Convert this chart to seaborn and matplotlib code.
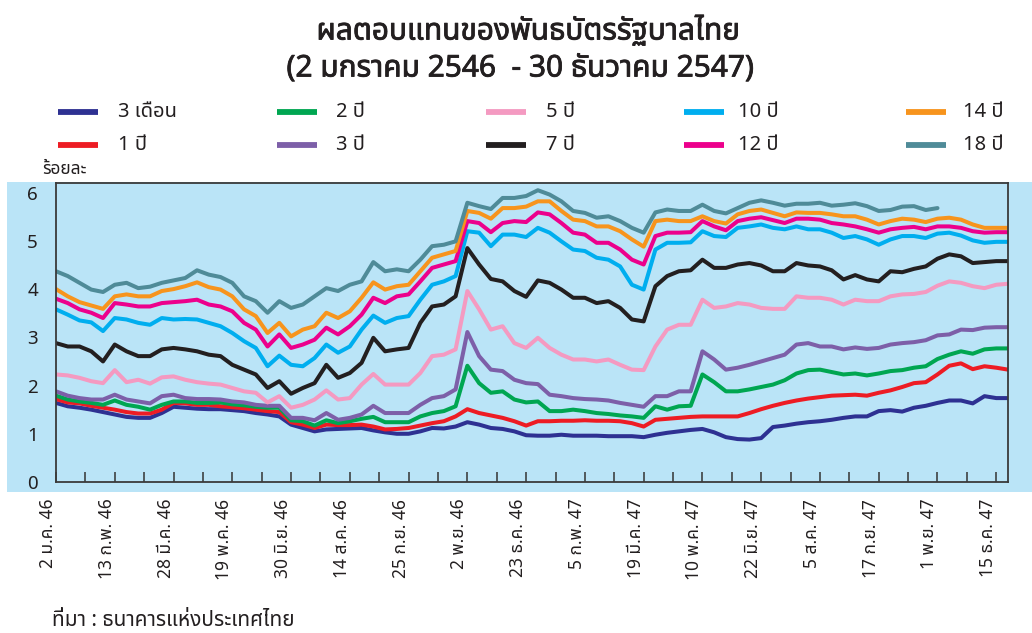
import numpy as np
import pandas as pd
import matplotlib
matplotlib.use("Agg")
import matplotlib.pyplot as plt
import matplotlib.transforms as mtransforms
import matplotlib.patheffects as pe
from matplotlib import font_manager
from matplotlib.ft2font import FT2Font
from matplotlib.lines import Line2D
from matplotlib.patches import Rectangle
import seaborn as sns

# ---------------------------------------------------------------- data
# observations every 6th trading day, 2 Jan 2003 (day 0) .. 30 Dec 2004
obs_day = np.arange(0, 487, 6)

tenors = ["3 เดือน", "1 ปี", "2 ปี", "3 ปี", "5 ปี",
          "7 ปี", "10 ปี", "12 ปี", "14 ปี", "18 ปี"]
colors = ["#2E3192", "#ED1C24", "#00A651", "#7D5FA8", "#F49AC1",
          "#231F20", "#00AEEF", "#EC008C", "#F7941D", "#4F8B98"]

y_3m = [1.64, 1.57, 1.54, 1.50, 1.45, 1.40, 1.35, 1.33, 1.33, 1.43, 1.56, 1.54, 1.52, 1.51,
        1.51, 1.49, 1.47, 1.43, 1.40, 1.36, 1.19, 1.12, 1.05, 1.09, 1.10, 1.11, 1.12, 1.07,
        1.03, 1.00, 1.00, 1.05, 1.12, 1.11, 1.15, 1.24, 1.19, 1.12, 1.10, 1.05, 0.97,
        0.96, 0.96, 0.98, 0.96, 0.96, 0.96, 0.95, 0.95, 0.95, 0.93, 0.98, 1.02, 1.05, 1.08,
        1.10, 1.03, 0.93, 0.89, 0.88, 0.91, 1.14, 1.17, 1.21, 1.24, 1.26, 1.29, 1.33, 1.36,
        1.36, 1.47, 1.49, 1.46, 1.54, 1.58, 1.64, 1.69, 1.69, 1.63, 1.78, 1.74, 1.74]
y_1y = [1.72, 1.65, 1.63, 1.58, 1.54, 1.50, 1.45, 1.42, 1.42, 1.50, 1.64, 1.63, 1.60, 1.60,
        1.57, 1.55, 1.53, 1.50, 1.47, 1.45, 1.24, 1.19, 1.12, 1.19, 1.18, 1.18, 1.19, 1.15,
        1.09, 1.10, 1.12, 1.17, 1.22, 1.26, 1.36, 1.51, 1.43, 1.38, 1.33, 1.26, 1.17,
        1.26, 1.26, 1.27, 1.27, 1.28, 1.27, 1.27, 1.26, 1.22, 1.15, 1.29, 1.31, 1.33, 1.35,
        1.36, 1.36, 1.36, 1.36, 1.43, 1.51, 1.58, 1.64, 1.69, 1.73, 1.76, 1.79, 1.80, 1.81,
        1.79, 1.85, 1.90, 1.97, 2.05, 2.07, 2.23, 2.41, 2.46, 2.34, 2.40, 2.37, 2.33]
y_2y = [1.79, 1.71, 1.67, 1.64, 1.60, 1.69, 1.60, 1.56, 1.50, 1.60, 1.67, 1.67, 1.64, 1.64,
        1.65, 1.61, 1.59, 1.56, 1.54, 1.54, 1.28, 1.26, 1.17, 1.28, 1.22, 1.26, 1.31, 1.35,
        1.24, 1.24, 1.24, 1.36, 1.43, 1.47, 1.57, 2.41, 2.05, 1.85, 1.88, 1.71, 1.65,
        1.67, 1.47, 1.47, 1.50, 1.47, 1.43, 1.41, 1.38, 1.36, 1.33, 1.57, 1.50, 1.57, 1.58,
        2.23, 2.07, 1.88, 1.88, 1.92, 1.97, 2.02, 2.11, 2.25, 2.32, 2.33, 2.28, 2.23, 2.25,
        2.21, 2.25, 2.30, 2.32, 2.37, 2.40, 2.55, 2.64, 2.71, 2.66, 2.75, 2.77, 2.77]
y_3y = [1.88, 1.79, 1.74, 1.71, 1.71, 1.81, 1.71, 1.67, 1.63, 1.78, 1.81, 1.74, 1.72, 1.72,
        1.71, 1.67, 1.65, 1.60, 1.58, 1.58, 1.33, 1.33, 1.28, 1.43, 1.29, 1.33, 1.40, 1.58,
        1.43, 1.43, 1.43, 1.60, 1.74, 1.78, 1.92, 3.11, 2.61, 2.33, 2.30, 2.12, 2.05,
        2.03, 1.81, 1.78, 1.74, 1.72, 1.71, 1.69, 1.64, 1.60, 1.56, 1.78, 1.78, 1.88, 1.88,
        2.71, 2.54, 2.33, 2.37, 2.43, 2.50, 2.57, 2.64, 2.85, 2.88, 2.81, 2.81, 2.75, 2.79,
        2.76, 2.78, 2.85, 2.88, 2.90, 2.94, 3.04, 3.06, 3.16, 3.15, 3.20, 3.21, 3.21]
y_5y = [2.23, 2.21, 2.16, 2.09, 2.05, 2.32, 2.07, 2.12, 2.04, 2.17, 2.19, 2.12, 2.07, 2.04,
        2.02, 1.95, 1.88, 1.85, 1.65, 1.78, 1.54, 1.60, 1.71, 1.90, 1.71, 1.74, 2.02, 2.24,
        2.02, 2.02, 2.02, 2.26, 2.61, 2.64, 2.75, 3.96, 3.58, 3.16, 3.23, 2.88, 2.78,
        2.99, 2.78, 2.64, 2.54, 2.54, 2.50, 2.54, 2.43, 2.33, 2.32, 2.81, 3.16, 3.26, 3.26,
        3.78, 3.61, 3.64, 3.71, 3.68, 3.61, 3.59, 3.59, 3.85, 3.82, 3.82, 3.78, 3.68, 3.78,
        3.75, 3.75, 3.85, 3.89, 3.90, 3.94, 4.07, 4.16, 4.13, 4.06, 4.02, 4.09, 4.11]
y_7y = [2.88, 2.81, 2.81, 2.71, 2.50, 2.85, 2.71, 2.61, 2.61, 2.75, 2.78, 2.75, 2.71, 2.64,
        2.61, 2.43, 2.33, 2.23, 1.95, 2.09, 1.83, 1.95, 2.05, 2.43, 2.16, 2.26, 2.47, 2.99,
        2.71, 2.75, 2.78, 3.30, 3.64, 3.68, 3.85, 4.85, 4.51, 4.21, 4.16, 3.96, 3.84,
        4.18, 4.13, 3.99, 3.82, 3.82, 3.71, 3.75, 3.61, 3.37, 3.33, 4.06, 4.27, 4.37, 4.39,
        4.61, 4.44, 4.44, 4.51, 4.54, 4.49, 4.37, 4.37, 4.54, 4.49, 4.47, 4.39, 4.20, 4.29,
        4.20, 4.16, 4.37, 4.35, 4.42, 4.47, 4.63, 4.72, 4.68, 4.54, 4.56, 4.58, 4.58]
y_10y = [3.58, 3.47, 3.35, 3.31, 3.13, 3.40, 3.37, 3.30, 3.26, 3.40, 3.37, 3.38, 3.37, 3.30,
         3.23, 3.09, 2.92, 2.78, 2.40, 2.62, 2.43, 2.40, 2.57, 2.85, 2.68, 2.81, 3.16, 3.45,
         3.30, 3.40, 3.44, 3.78, 4.09, 4.16, 4.27, 5.20, 5.17, 4.89, 5.13, 5.13, 5.08,
         5.27, 5.17, 4.99, 4.82, 4.79, 4.65, 4.61, 4.47, 4.09, 3.99, 4.82, 4.96, 4.96, 4.97,
         5.20, 5.10, 5.08, 5.27, 5.30, 5.34, 5.27, 5.24, 5.30, 5.24, 5.24, 5.17, 5.06, 5.10,
         5.03, 4.92, 5.03, 5.10, 5.10, 5.06, 5.15, 5.17, 5.11, 5.01, 4.96, 4.98, 4.98]
y_12y = [3.80, 3.71, 3.58, 3.51, 3.40, 3.71, 3.68, 3.64, 3.64, 3.71, 3.73, 3.75, 3.78, 3.68,
         3.64, 3.54, 3.30, 3.16, 2.81, 3.06, 2.78, 2.85, 2.95, 3.20, 3.06, 3.23, 3.47, 3.82,
         3.71, 3.85, 3.89, 4.16, 4.44, 4.51, 4.58, 5.41, 5.37, 5.18, 5.37, 5.41, 5.39,
         5.59, 5.55, 5.37, 5.17, 5.13, 4.96, 4.96, 4.82, 4.61, 4.51, 5.10, 5.17, 5.17, 5.18,
         5.41, 5.30, 5.22, 5.41, 5.46, 5.49, 5.43, 5.37, 5.46, 5.46, 5.44, 5.37, 5.34, 5.30,
         5.24, 5.17, 5.24, 5.27, 5.29, 5.24, 5.30, 5.30, 5.27, 5.20, 5.17, 5.18, 5.18]
y_14y = [4.00, 3.85, 3.73, 3.66, 3.59, 3.85, 3.89, 3.85, 3.85, 3.96, 4.00, 4.06, 4.14, 4.04,
         3.99, 3.85, 3.58, 3.44, 3.09, 3.30, 3.02, 3.16, 3.23, 3.51, 3.40, 3.54, 3.82, 4.14,
         3.99, 4.06, 4.09, 4.37, 4.65, 4.72, 4.79, 5.62, 5.58, 5.46, 5.68, 5.68, 5.71,
         5.82, 5.82, 5.62, 5.44, 5.41, 5.30, 5.30, 5.20, 5.03, 4.88, 5.41, 5.44, 5.41, 5.41,
         5.51, 5.41, 5.36, 5.55, 5.62, 5.65, 5.58, 5.51, 5.59, 5.58, 5.58, 5.55, 5.51, 5.51,
         5.44, 5.34, 5.41, 5.46, 5.44, 5.39, 5.46, 5.48, 5.44, 5.34, 5.27, 5.27, 5.27]
y_18y = [4.37, 4.27, 4.13, 3.99, 3.94, 4.09, 4.13, 4.02, 4.05, 4.13, 4.18, 4.23, 4.39, 4.30,
         4.25, 4.13, 3.85, 3.75, 3.51, 3.75, 3.61, 3.68, 3.85, 4.02, 3.96, 4.09, 4.16, 4.56,
         4.37, 4.41, 4.37, 4.61, 4.89, 4.92, 4.99, 5.79, 5.72, 5.66, 5.89, 5.89, 5.93,
         6.05, 5.96, 5.82, 5.62, 5.58, 5.48, 5.51, 5.41, 5.27, 5.17, 5.59, 5.65, 5.62, 5.62,
         5.75, 5.62, 5.57, 5.68, 5.79, 5.84, 5.79, 5.73, 5.77, 5.77, 5.79, 5.73, 5.75, 5.78,
         5.72, 5.62, 5.64, 5.71, 5.72, 5.64, 5.68, np.nan, np.nan, np.nan, np.nan, np.nan, np.nan]

tick_days = [0, 30, 60, 90, 120, 150, 180, 210, 240, 270, 300, 330, 360, 390, 420, 450, 480]
tick_labels = ["2 ม.ค. 46", "13 ก.พ. 46", "28 มี.ค. 46", "19 พ.ค. 46", "30 มิ.ย. 46",
               "14 ส.ค. 46", "25 ก.ย. 46", "2 พ.ย. 46", "23 ธ.ค. 46", "5 ก.พ. 47",
               "19 มี.ค. 47", "10 พ.ค. 47", "22 มิ.ย. 47", "5 ส.ค. 47", "17 ก.ย. 47",
               "1 พ.ย. 47", "15 ธ.ค. 47"]

title_1 = "ผลตอบแทนของพันธบัตรรัฐบาลไทย"
title_2 = "(2 มกราคม 2546  - 30 ธันวาคม 2547)"
unit_label = "ร้อยละ"
source_note = "ที่มา : ธนาคารแห่งประเทศไทย"

series = [y_3m, y_1y, y_2y, y_3y, y_5y, y_7y, y_10y, y_12y, y_14y, y_18y]
df = pd.concat(
    [pd.DataFrame({"day": obs_day, "yield": vals, "tenor": name})
     for name, vals in zip(tenors, series)],
    ignore_index=True,
)


# ---------------------------------------------------------------- fonts
def thai_family():
    preferred = ["Noto Sans Thai", "Noto Sans Thai UI", "Loma", "Garuda", "Umpush",
                 "Waree", "Sarabun", "Tlwg Typo", "Kinnari", "Norasi",
                 "DejaVu Sans", "Noto Sans", "FreeSans"]
    found = set()
    for f in font_manager.fontManager.ttflist:
        if f.name in found:
            continue
        try:
            cmap = FT2Font(f.fname).get_charmap()
        except Exception:
            continue
        if 0x0E01 in cmap and 0x0E1B in cmap:
            found.add(f.name)
    for name in preferred:
        if name in found:
            return name
    return sorted(found)[0] if found else "DejaVu Sans"


sns.set_theme(style="white")
THAI = thai_family()
plt.rcParams["font.family"] = [THAI, "DejaVu Sans"]
plt.rcParams["text.color"] = "#231F20"
INK = "#231F20"

# ---------------------------------------------------------------- figure
W, H = 1032, 633
fig = plt.figure(figsize=(W / 100, H / 100), dpi=100, facecolor="white")

band = "#BAE4F7"
fig.add_artist(Rectangle((7 / W, 141 / H), 1 - 7 / W, 310 / H,
                         transform=fig.transFigure, facecolor=band,
                         edgecolor="none", zorder=0))

ax = fig.add_axes([56 / W, 151 / H, 952 / W, 299 / H])
ax.set_facecolor(band)

sns.lineplot(data=df, x="day", y="yield", hue="tenor", hue_order=tenors,
             palette=colors, linewidth=2.9, legend=False, ax=ax,
             estimator=None, sort=False)

ax.set_xlim(0, 486)
ax.set_ylim(0, 6.2)
ax.set_xlabel("")
ax.set_ylabel("")

ax.set_yticks(range(0, 7))
ax.set_yticklabels([str(v) for v in range(0, 7)], fontsize=13.5, color=INK)
ax.tick_params(axis="y", length=0, pad=13)

ax.set_xticks(tick_days)
ax.set_xticklabels(tick_labels, rotation=90, fontsize=12.5, color=INK,
                   va="top", ha="center")
ax.set_xticks([d + 15 for d in tick_days[:-1]], minor=True)
ax.tick_params(axis="x", which="both", direction="in", length=7, width=1.1,
               color="#333333", pad=12, bottom=True)
shift = mtransforms.ScaledTranslation(-0.08, 0, fig.dpi_scale_trans)
for lab in ax.get_xticklabels():
    lab.set_transform(lab.get_transform() + shift)

for side in ["left", "right", "top", "bottom"]:
    ax.spines[side].set_visible(True)
    ax.spines[side].set_color("#3A3A3A")
    ax.spines[side].set_linewidth(1.3)

# ---------------------------------------------------------------- text
heavy = [pe.withStroke(linewidth=0.6, foreground=INK)]
fig.text(528 / W, 1 - 31 / H, title_1, ha="center", va="center",
         fontsize=21.5, fontweight="bold", path_effects=heavy)
fig.text(520 / W, 1 - 69 / H, title_2, ha="center", va="center",
         fontsize=21.5, fontweight="bold", path_effects=heavy)

# legend: five columns, two rows
col_x = [58, 277, 486, 684, 906]
text_x = [118, 336, 546, 738, 963]
row_y = [112, 145]
for k, (name, col) in enumerate(zip(tenors, colors)):
    c, r = divmod(k, 2)
    y = 1 - row_y[r] / H
    fig.add_artist(Line2D([col_x[c] / W, (col_x[c] + 40) / W], [y, y],
                          transform=fig.transFigure, color=col,
                          linewidth=4.2, solid_capstyle="butt"))
    fig.text(text_x[c] / W, y, name, ha="left", va="center", fontsize=14.5)

fig.text(42 / W, 1 - 169 / H, unit_label, ha="left", va="center",
         fontsize=12.5, style="italic")
fig.text(52 / W, 1 - 620 / H, source_note, ha="left", va="center",
         fontsize=15)

fig.savefig("out.png", dpi=100, facecolor="white")
